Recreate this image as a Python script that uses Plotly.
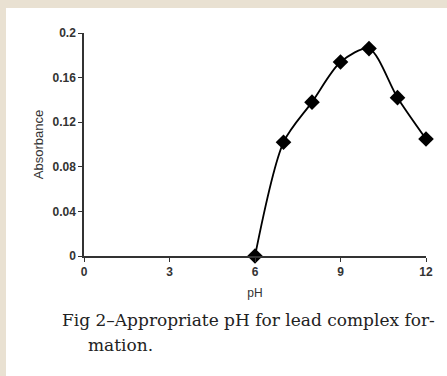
import plotly.graph_objects as go

ph = [6, 7, 8, 9, 10, 11, 12]
absorbance = [0.0, 0.102, 0.138, 0.174, 0.186, 0.142, 0.105]
x_ticks = [0, 3, 6, 9, 12]
y_ticks = [0, 0.04, 0.08, 0.12, 0.16, 0.2]
y_tick_text = ["0", "0.04", "0.08", "0.12", "0.16", "0.2"]

W, H = 447, 376
L, R, T, B = 84, 21, 33, 120
pw, ph_ = W - L - R, H - T - B

def px(xp):
    return (xp - L) / pw

def py(yp):
    return 1 - (yp - T) / ph_

BEIGE = "#e9e1d2"
fig = go.Figure()
fig.add_trace(go.Scatter(
    x=ph, y=absorbance, mode="lines+markers",
    line=dict(color="black", width=1.8, shape="spline", smoothing=0.8),
    marker=dict(symbol="diamond", size=12, color="black"),
    cliponaxis=False, showlegend=False,
))

fig.update_layout(
    width=W, height=H,
    margin=dict(l=L, r=R, t=T, b=B),
    paper_bgcolor="white",
    plot_bgcolor="rgba(0,0,0,0)",
    font=dict(family="Liberation Sans, Arial", size=11, color="#333"),
    xaxis=dict(range=[0, 12], tickvals=x_ticks, showgrid=False, zeroline=False,
               showline=True, linecolor="#333", linewidth=1.5,
               ticks="outside", ticklen=4, tickcolor="#333",
               tickfont=dict(size=12, weight="bold"),
               title=dict(text="pH", font=dict(size=12), standoff=10)),
    yaxis=dict(range=[0, 0.2], tickvals=y_ticks, ticktext=y_tick_text,
               showgrid=False, zeroline=False,
               showline=True, linecolor="#333", linewidth=1.5,
               ticks="outside", ticklen=4, tickcolor="#333",
               tickfont=dict(size=12, weight="bold"),
               title=dict(text="Absorbance", font=dict(size=13), standoff=6)),
    shapes=[
        dict(type="rect", xref="paper", yref="paper", layer="below",
             x0=px(0), x1=px(6), y0=py(H), y1=py(0),
             fillcolor=BEIGE, line=dict(width=0)),
        dict(type="rect", xref="paper", yref="paper", layer="below",
             x0=px(0), x1=px(W), y0=py(8), y1=py(0),
             fillcolor=BEIGE, line=dict(width=0)),
    ],
    annotations=[
        dict(xref="paper", yref="paper", x=px(60), y=py(320), xanchor="left", yanchor="middle",
             text="Fig 2\u2013Appropriate pH for lead complex for-", showarrow=False,
             font=dict(family="DejaVu Serif", size=17, color="#222")),
        dict(xref="paper", yref="paper", x=px(86), y=py(345), xanchor="left", yanchor="middle",
             text="mation.", showarrow=False,
             font=dict(family="DejaVu Serif", size=17, color="#222")),
    ],
)

fig.write_html("out.html")
